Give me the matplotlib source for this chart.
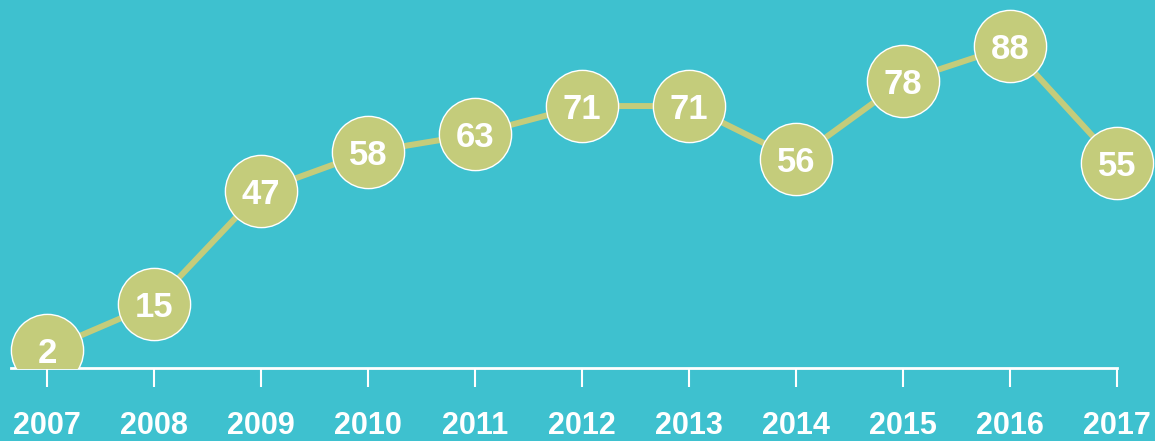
import matplotlib
matplotlib.use("Agg")
import matplotlib.pyplot as plt

years = [2007, 2008, 2009, 2010, 2011, 2012, 2013, 2014, 2015, 2016, 2017]
values = [2, 15, 47, 58, 63, 71, 71, 56, 78, 88, 55]

bg = "#3ec1cf"
khaki = "#c4cc7b"

plt.rcParams['font.family'] = ['Liberation Sans', 'DejaVu Sans']

fig = plt.figure(figsize=(11.55, 4.41), dpi=100, facecolor=bg)
ax = fig.add_axes([0, 73 / 441, 1, 368 / 441])
ax.set_facecolor(bg)

# ligne + cercles
ax.plot(years, values, color=khaki, linewidth=4.3, zorder=2, clip_on=False)
ax.plot(years, values, 'o', markersize=52, markerfacecolor=khaki,
        markeredgecolor='white', markeredgewidth=1.0, zorder=3)
for x, v in zip(years, values):
    ax.text(x, v, str(v), ha='center', va='center_baseline', color='white',
            fontsize=25, fontweight='bold', zorder=4)

ax.set_xlim(2007 - 47 / 107, 2017 + 38 / 107)
ax.set_ylim(-3.1, 101)

for s in ['top', 'right', 'left']:
    ax.spines[s].set_visible(False)
ax.spines['bottom'].set_color('white')
ax.spines['bottom'].set_linewidth(2)
ax.spines['bottom'].set_bounds(2007 - 0.34, 2017)
ax.spines['bottom'].set_zorder(2.5)
ax.set_yticks([])
ax.set_xticks(years)
ax.set_xticklabels([str(y) for y in years], color='white', fontsize=22,
                   fontweight='bold')
ax.tick_params(axis='x', length=14, width=1.5, color='white', pad=17)

fig.savefig("out.png", dpi=100, facecolor=bg)
